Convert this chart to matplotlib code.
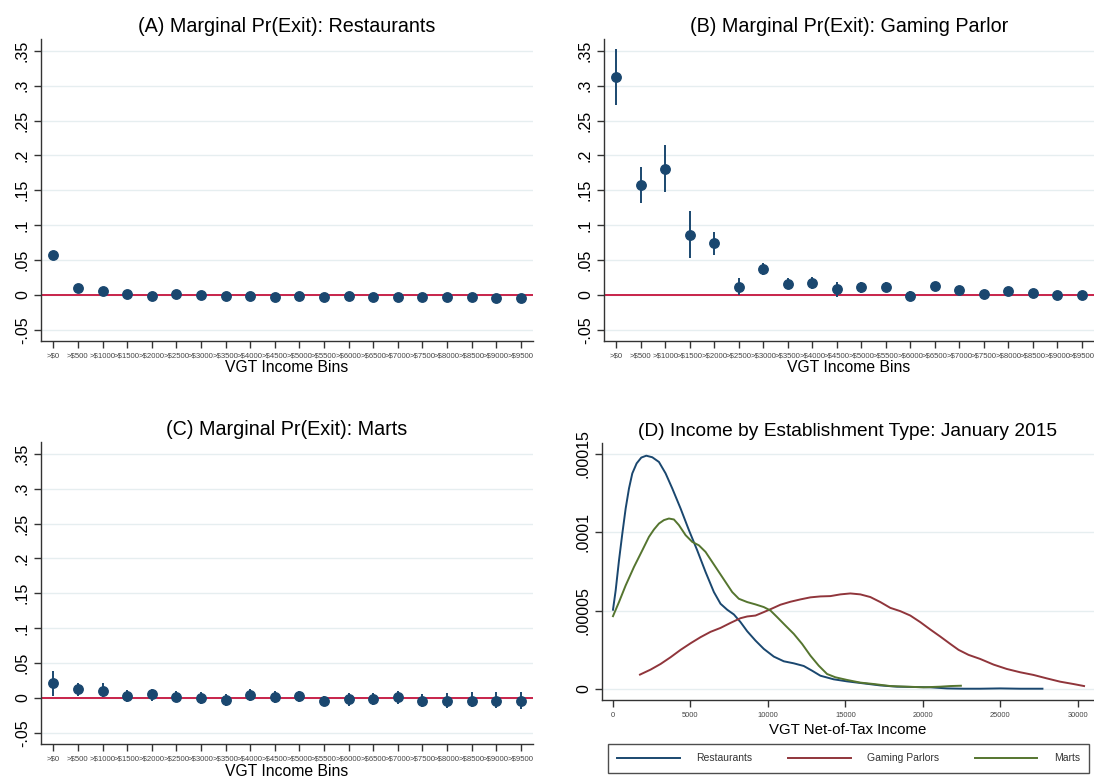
import numpy as np
import matplotlib
matplotlib.use("Agg")
import matplotlib.pyplot as plt

plt.rcParams['font.family'] = ['Liberation Sans', 'DejaVu Sans']

# ---- data ----
bins = [">$0", ">$500", ">$1000", ">$1500", ">$2000", ">$2500", ">$3000", ">$3500",
        ">$4000", ">$4500", ">$5000", ">$5500", ">$6000", ">$6500", ">$7000",
        ">$7500", ">$8000", ">$8500", ">$9000", ">$9500"]

# (A) restaurants
rest_est = [0.057, 0.010, 0.005, 0.001, -0.001, 0.001, 0.000, -0.002, -0.002, -0.003,
            -0.002, -0.003, -0.002, -0.003, -0.003, -0.003, -0.003, -0.003, -0.004, -0.004]
rest_lo = [0.053, 0.008, 0.003, -0.001, -0.003, -0.001, -0.002, -0.004, -0.004, -0.005,
           -0.004, -0.005, -0.004, -0.005, -0.005, -0.005, -0.005, -0.005, -0.006, -0.006]
rest_hi = [0.061, 0.012, 0.007, 0.003, 0.001, 0.003, 0.002, 0.000, 0.000, -0.001,
           0.000, -0.001, 0.000, -0.001, -0.001, -0.001, -0.001, -0.001, -0.002, -0.002]

# (B) gaming parlors
game_est = [0.312, 0.158, 0.181, 0.0865, 0.0745, 0.012, 0.037, 0.016, 0.017, 0.008,
            0.011, 0.012, -0.0015, 0.013, 0.007, 0.002, 0.005, 0.003, 0.000, 0.000]
game_lo = [0.272, 0.132, 0.148, 0.053, 0.058, 0.000, 0.028, 0.009, 0.008, -0.003,
           0.003, 0.005, -0.008, 0.006, 0.002, -0.001, 0.002, 0.000, -0.002, -0.002]
game_hi = [0.352, 0.183, 0.215, 0.120, 0.090, 0.025, 0.046, 0.025, 0.026, 0.018,
           0.019, 0.019, 0.006, 0.019, 0.012, 0.005, 0.008, 0.006, 0.002, 0.002]

# (C) marts
mart_est = [0.021, 0.0125, 0.0105, 0.0025, 0.005, 0.002, -0.0005, -0.003, 0.0045, 0.001,
            0.0025, -0.0045, -0.002, -0.0015, 0.001, -0.004, -0.004, -0.004, -0.004, -0.004]
mart_lo = [0.003, 0.003, 0.001, -0.006, -0.004, -0.006, -0.009, -0.0115, -0.004, -0.007,
           -0.006, -0.0115, -0.011, -0.0096, -0.008, -0.013, -0.0145, -0.0135, -0.015, -0.016]
mart_hi = [0.039, 0.022, 0.021, 0.011, 0.0125, 0.0096, 0.0087, 0.005, 0.0135, 0.0096,
           0.0106, 0.003, 0.007, 0.0067, 0.010, 0.006, 0.007, 0.008, 0.009, 0.009]

# (D) income densities
rest_x = [0, 172, 387, 602, 817, 1032, 1246, 1526, 1827, 2149, 2536, 2966, 3396, 3826,
          4363, 4900, 5437, 5975, 6512, 6942, 7372, 7802, 8232, 8661, 9199, 9736, 10380,
          11025, 11670, 12314, 12851, 13388, 14248, 15108, 16182, 17257, 18331, 19406,
          20480, 21555, 22629, 23704, 24993, 26282, 27722]
rest_y = [5.06e-5, 6.29e-5, 8.21e-5, 9.92e-5, 1.152e-4, 1.280e-4, 1.376e-4, 1.440e-4,
          1.477e-4, 1.489e-4, 1.479e-4, 1.449e-4, 1.376e-4, 1.280e-4, 1.152e-4, 1.014e-4,
          8.85e-5, 7.47e-5, 6.19e-5, 5.44e-5, 5.06e-5, 4.76e-5, 4.27e-5, 3.69e-5, 3.09e-5,
          2.56e-5, 2.07e-5, 1.77e-5, 1.64e-5, 1.47e-5, 1.17e-5, 8.5e-6, 6.2e-6, 4.9e-6,
          3.6e-6, 2.3e-6, 1.5e-6, 1.3e-6, 1.1e-6, 4e-7, 2e-7, 2e-7, 4e-7, 2e-7, 2e-7]

game_x = [1741, 2428, 3073, 3718, 4363, 5007, 5652, 6297, 6941, 7586, 8231, 8661, 9198,
          9735, 10272, 10809, 11454, 12099, 12743, 13388, 14033, 14678, 15322, 15967,
          16612, 17257, 17901, 18546, 19191, 19835, 20480, 21125, 21770, 22307, 22951,
          23703, 24563, 25422, 26282, 27141, 28001, 28861, 29720, 30408]
game_y = [9.2e-6, 1.24e-5, 1.60e-5, 2.03e-5, 2.50e-5, 2.92e-5, 3.31e-5, 3.65e-5, 3.90e-5,
          4.22e-5, 4.52e-5, 4.63e-5, 4.69e-5, 4.91e-5, 5.14e-5, 5.38e-5, 5.57e-5, 5.72e-5,
          5.85e-5, 5.91e-5, 5.93e-5, 6.04e-5, 6.10e-5, 6.04e-5, 5.87e-5, 5.55e-5, 5.18e-5,
          4.97e-5, 4.69e-5, 4.27e-5, 3.80e-5, 3.35e-5, 2.88e-5, 2.50e-5, 2.18e-5, 1.92e-5,
          1.56e-5, 1.28e-5, 1.07e-5, 9.0e-6, 6.8e-6, 4.7e-6, 3.2e-6, 1.9e-6]

mart_x = [0, 387, 817, 1354, 1891, 2321, 2643, 2966, 3288, 3610, 3933, 4255, 4685, 5115,
          5544, 5974, 6404, 6834, 7264, 7694, 8123, 8661, 9198, 9735, 10165, 10595, 11132,
          11669, 12206, 12744, 13281, 13818, 14355, 15107, 15967, 16827, 17901, 18976,
          20050, 21125, 21770, 22457]
mart_y = [4.65e-5, 5.55e-5, 6.61e-5, 7.79e-5, 8.85e-5, 9.71e-5, 1.018e-4, 1.056e-4,
          1.078e-4, 1.088e-4, 1.082e-4, 1.046e-4, 9.82e-5, 9.39e-5, 9.17e-5, 8.75e-5,
          8.11e-5, 7.47e-5, 6.83e-5, 6.19e-5, 5.76e-5, 5.55e-5, 5.40e-5, 5.23e-5, 5.01e-5,
          4.59e-5, 4.05e-5, 3.52e-5, 2.88e-5, 2.13e-5, 1.49e-5, 9.6e-6, 7.5e-6, 5.8e-6,
          4.1e-6, 3.2e-6, 1.9e-6, 1.5e-6, 1.1e-6, 1.5e-6, 1.9e-6, 2.1e-6]

pr_ticks = [-0.05, 0, 0.05, 0.1, 0.15, 0.2, 0.25, 0.3, 0.35]
pr_labels = ["-.05", "0", ".05", ".1", ".15", ".2", ".25", ".3", ".35"]
dens_ticks = [0, 0.00005, 0.0001, 0.00015]
dens_labels = ["0", ".00005", ".0001", ".00015"]
inc_ticks = [0, 5000, 10000, 15000, 20000, 25000, 30000]

NAVY = "#1a476f"
MAROON = "#90353b"
GREEN = "#55752f"
ZERO_RED = "#c8234a"
GRID = "#e6eef0"
AXC = "#333333"

W, H = 1094, 777
fig = plt.figure(figsize=(W / 100, H / 100), dpi=100)
fig.set_facecolor("white")


def rect(left, top, right, bottom):
    return [left / W, 1 - bottom / H, (right - left) / W, (bottom - top) / H]


def style(ax):
    for s in ["top", "right"]:
        ax.spines[s].set_visible(False)
    for s in ["left", "bottom"]:
        ax.spines[s].set_color(AXC)
        ax.spines[s].set_linewidth(1.0)
    ax.tick_params(direction="out", length=5, width=1, color=AXC)
    ax.tick_params(axis="y", labelsize=11.5, labelrotation=90, pad=3)
    for lab in ax.get_yticklabels():
        lab.set_va("center")


def exit_panel(ax, title, est, lo, hi):
    x = np.arange(len(bins))
    est, lo, hi = np.array(est), np.array(lo), np.array(hi)
    for t in pr_ticks:
        ax.axhline(t, color=GRID, lw=1, zorder=0)
    ax.axhline(0, color=ZERO_RED, lw=1.4, zorder=1)
    ax.vlines(x, lo, hi, color=NAVY, lw=1.4, zorder=2)
    ax.plot(x, est, "o", color=NAVY, ms=6.8, zorder=3)
    ax.set_xlim(-0.5, 19.5)
    ax.set_ylim(-0.066, 0.367)
    ax.set_yticks(pr_ticks)
    ax.set_yticklabels(pr_labels)
    ax.set_xticks(x)
    ax.set_xticklabels(bins, fontsize=5.6, color="#444444")
    ax.tick_params(axis="x", pad=3.5)
    ax.set_xlabel("VGT Income Bins", fontsize=11.3, labelpad=0.5)
    ax.set_title(title, fontsize=14.2, pad=5)
    style(ax)


axA = fig.add_axes(rect(41, 39, 533, 341))
exit_panel(axA, "(A) Marginal Pr(Exit): Restaurants", rest_est, rest_lo, rest_hi)

axB = fig.add_axes(rect(604, 39, 1094, 341))
exit_panel(axB, "(B) Marginal Pr(Exit): Gaming Parlor", game_est, game_lo, game_hi)

axC = fig.add_axes(rect(41, 442, 533, 744))
exit_panel(axC, "(C) Marginal Pr(Exit): Marts", mart_est, mart_lo, mart_hi)

axD = fig.add_axes(rect(602, 443, 1094, 700))
for t in dens_ticks:
    axD.axhline(t, color=GRID, lw=1, zorder=0)
axD.plot(rest_x, rest_y, color=NAVY, lw=1.4, label="Restaurants")
axD.plot(game_x, game_y, color=MAROON, lw=1.4, label="Gaming Parlors")
axD.plot(mart_x, mart_y, color=GREEN, lw=1.4, label="Marts")
axD.set_xlim(-710, 31050)
axD.set_ylim(-0.000007, 0.000157)
axD.set_yticks(dens_ticks)
axD.set_yticklabels(dens_labels)
axD.set_xticks(inc_ticks)
axD.set_xticklabels([str(v) for v in inc_ticks], fontsize=5.4, color="#444444")
axD.tick_params(axis="x", pad=3.5)
axD.set_xlabel("VGT Net-of-Tax Income", fontsize=10.8, labelpad=3)
axD.set_title("(D) Income by Establishment Type: January 2015", fontsize=13.8, pad=5)
style(axD)

handles, labels = axD.get_legend_handles_labels()
leg = fig.legend(handles, labels, loc="upper left", bbox_to_anchor=(608 / W, 1 - 744 / H),
                 ncol=3, fontsize=7.5, frameon=True, fancybox=False, edgecolor="#222222",
                 handlelength=6, handletextpad=1.6, columnspacing=3.4, borderpad=0.9,
                 borderaxespad=0)
leg.get_frame().set_linewidth(1.0)
for txt in leg.get_texts():
    txt.set_color("#333333")

fig.savefig("out.png", dpi=100, facecolor="white")
